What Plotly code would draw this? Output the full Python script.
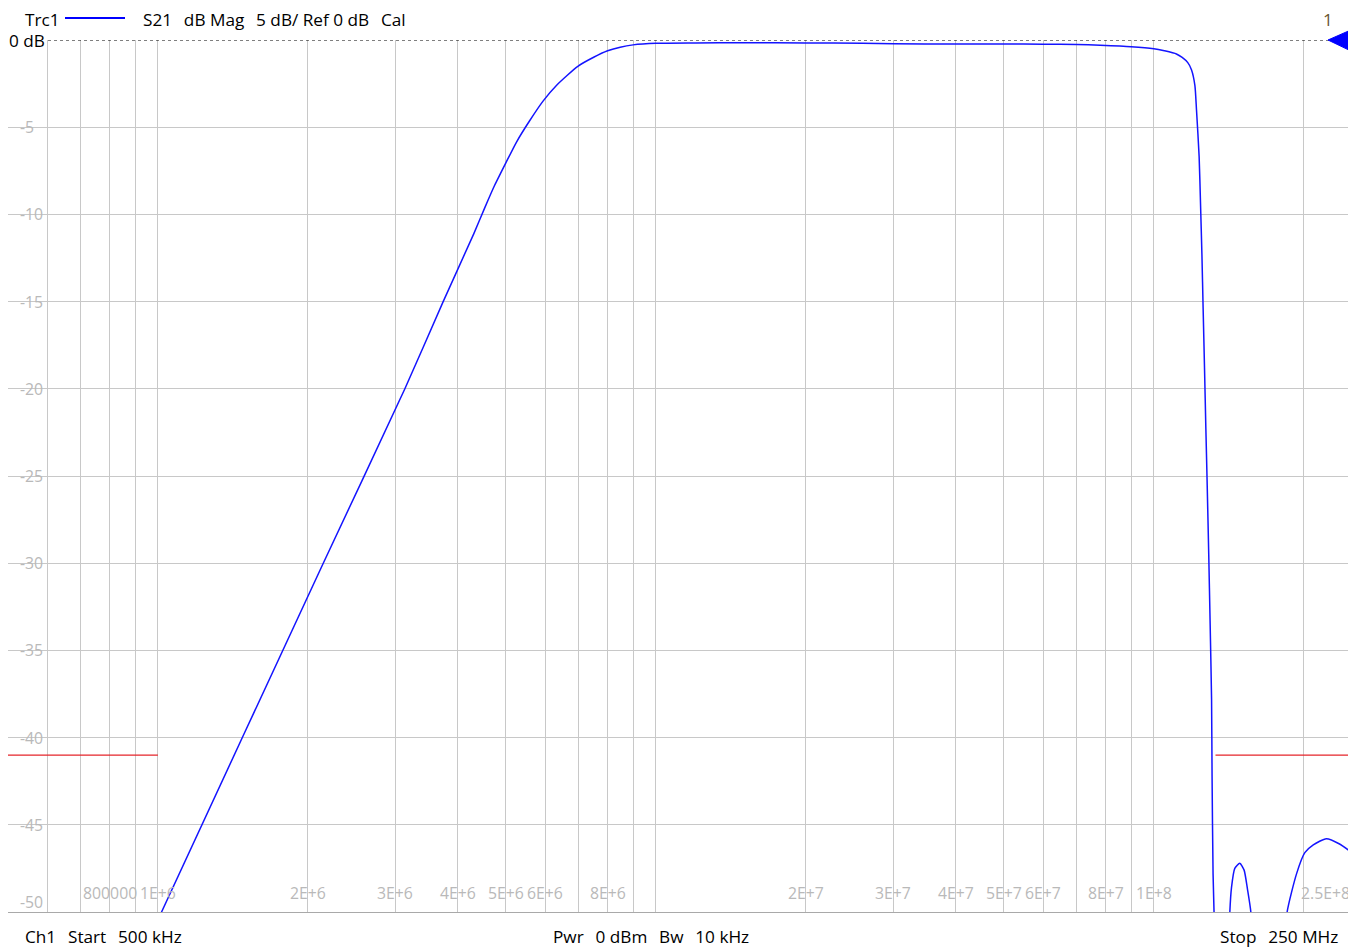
import numpy as np
import plotly.graph_objects as go

# ---------------- data ----------------
freq_hz = [5.0e5, 9.5e5, 1.017e6, 2.148e6, 3.133e6, 3.740e6, 4.31e6, 4.53e6, 4.74e6,
           5.0e6, 5.25e6, 5.57e6, 5.94e6, 6.32e6, 6.97e6, 7.50e6, 8.0e6, 8.48e6, 9.0e6,
           1.0e7, 1.2e7, 1.5e7, 2.0e7, 2.6e7, 3.0e7, 4.0e7, 5.0e7, 6.0e7, 7.0e7, 7.8e7,
           9.0e7, 1.0e8, 1.05e8, 1.11e8, 1.14e8, 1.17e8, 1.19e8, 1.209e8, 1.218e8, 1.233e8,
           1.241e8, 1.249e8, 1.256e8, 1.264e8, 1.272e8, 1.280e8, 1.289e8, 1.297e8, 1.306e8,
           1.309e8, 1.315e8, 1.321e8, 1.33e8, 1.38e8, 1.415e8, 1.421e8, 1.432e8, 1.454e8,
           1.488e8, 1.518e8, 1.542e8, 1.566e8, 1.58e8, 1.70e8, 1.82e8, 1.852e8, 1.935e8,
           2.01e8, 2.09e8, 2.22e8, 2.36e8, 2.50e8]
s21_db = [-75.0, -51.85, -50.0, -30.0, -20.0, -15.0, -11.1, -9.64, -8.36,
          -7.03, -5.85, -4.66, -3.49, -2.59, -1.51, -0.99, -0.62, -0.41, -0.28,
          -0.19, -0.17, -0.16, -0.17, -0.19, -0.22, -0.23, -0.23, -0.24, -0.26, -0.30,
          -0.38, -0.50, -0.62, -0.80, -1.00, -1.30, -1.70, -2.60, -4.00, -6.70,
          -9.40, -12.3, -15.4, -18.8, -22.3, -25.6, -29.5, -33.3, -37.8,
          -42.2, -47.8, -50.0, -56.0, -58.0, -52.0, -50.0, -48.6, -47.5,
          -47.2, -47.6, -48.7, -50.0, -53.0, -60.0, -53.0, -50.0, -47.8,
          -46.6, -46.15, -45.8, -46.1, -46.6]

limit_low_x = [5.0e5, 1.0e6]
limit_high_x = [1.33e8, 2.5e8]
limit_db = -41.0

grid_freqs = [6e5, 7e5, 8e5, 9e5,
              1e6, 2e6, 3e6, 4e6, 5e6, 6e6, 7e6, 8e6, 9e6,
              1e7, 2e7, 3e7, 4e7, 5e7, 6e7, 7e7, 8e7, 9e7,
              1e8, 2e8]
xlabel_freqs = [8e5, 1e6, 2e6, 3e6, 4e6, 5e6, 6e6, 8e6, 2e7, 3e7, 4e7, 5e7, 6e7, 8e7, 1e8]
xlabel_texts = ["800000", "1E+6", "2E+6", "3E+6", "4E+6", "5E+6", "6E+6", "8E+6",
                "2E+7", "3E+7", "4E+7", "5E+7", "6E+7", "8E+7", "1E+8"]
stop_label = "2.5E+8"
y_ticks = [-5, -10, -15, -20, -25, -30, -35, -40, -45]
y_labels = ["-5", "-10", "-15", "-20", "-25", "-30", "-35", "-40", "-45"]

f_start, f_stop = 5.0e5, 2.5e8
y_min, y_max = -50, 0

# ---------------- styling ----------------
FONT = "Open Sans"
GRID = "#c8c8c8"
LBL = "#b9b9b9"
BLUE = "#1414ff"
TSZ = 15.8       # tick-label font size
HSZ = 17.2       # header/footer font size
CW = 9.0         # approx char width for labels
SP2 = "\u00a0\u2009\u00a0"   # the wide double gap used in the status texts

fig = go.Figure()

fig.add_trace(go.Scatter(x=limit_low_x, y=[limit_db] * 2, mode="lines",
                         line=dict(color="#e5252a", width=1.3), hoverinfo="skip"))
fig.add_trace(go.Scatter(x=limit_high_x, y=[limit_db] * 2, mode="lines",
                         line=dict(color="#e5252a", width=1.3), hoverinfo="skip"))
fig.add_trace(go.Scatter(x=freq_hz, y=s21_db, mode="lines",
                         line=dict(color=BLUE, width=1.5, shape="spline", smoothing=0.6),
                         hoverinfo="skip"))

shapes = []
annotations = []

# x tick labels (inside plot, bottom)
for f, t in zip(xlabel_freqs, xlabel_texts):
    w = CW * len(t)
    shapes.append(dict(type="rect", layer="between", xref="x", yref="y",
                       xsizemode="pixel", ysizemode="pixel",
                       xanchor=np.log10(f), yanchor=y_min,
                       x0=-w / 2 - 1, x1=w / 2 + 1, y0=11, y1=27,
                       fillcolor="white", line=dict(width=0)))
    annotations.append(dict(x=np.log10(f), y=0, xref="x", yref="paper",
                            text=t, showarrow=False, xanchor="center", yanchor="middle",
                            yshift=19, font=dict(family=FONT, size=TSZ, color=LBL)))
annotations.append(dict(x=np.log10(f_stop), y=0, xref="x", yref="paper",
                        text=stop_label, showarrow=False, xanchor="right", yanchor="middle",
                        yshift=19, xshift=0, font=dict(family=FONT, size=TSZ, color=LBL)))

# y tick labels (inside plot, left)
for v, t in zip(y_ticks, y_labels):
    w = 9.0 * (len(t) - 1) + 5.5
    shapes.append(dict(type="rect", layer="between", xref="paper", yref="y",
                       xsizemode="pixel", ysizemode="pixel",
                       xanchor=0, yanchor=v, x0=9, x1=14 + w, y0=-8, y1=8,
                       fillcolor="white", line=dict(width=0)))
    annotations.append(dict(x=0, y=v, xref="paper", yref="y", text=t, showarrow=False,
                            xanchor="left", yanchor="middle", xshift=10,
                            font=dict(family=FONT, size=TSZ, color=LBL)))
annotations.append(dict(x=0, y=y_min, xref="paper", yref="y", text="-50", showarrow=False,
                        xanchor="left", yanchor="middle", xshift=10, yshift=10,
                        font=dict(family=FONT, size=TSZ, color=LBL)))

# reference dotted line at 0 dB
shapes.append(dict(type="line", xref="paper", yref="y", xsizemode="pixel", xanchor=0,
                   x0=40, x1=1322, y0=0, y1=0, layer="above",
                   line=dict(color="black", width=1, dash="dot")))
# reference marker triangle (paper coordinates)
shapes.append(dict(type="path", xref="paper", yref="paper",
                   path="M 0.98214,1.0 L 1.00074,1.0126 L 1.00074,0.98624 Z",
                   fillcolor="#0000ff", line=dict(color="#0000ff", width=1), layer="above"))
# legend line
shapes.append(dict(type="line", xref="paper", yref="paper", xsizemode="pixel",
                   ysizemode="pixel", xanchor=0, yanchor=1, x0=57, x1=117, y0=22, y1=22,
                   line=dict(color="#0000ff", width=2)))

# "0 dB" reference label
annotations.append(dict(x=0, y=0, xref="paper", yref="y", text="0 dB", showarrow=False,
                        xanchor="left", yanchor="middle", xshift=0, bgcolor="white",
                        borderpad=0, font=dict(family=FONT, size=HSZ, color="black")))
# header
annotations.append(dict(x=0, y=1, xref="paper", yref="paper", text="Trc1", showarrow=False,
                        xanchor="left", yanchor="middle", xshift=15, yshift=21,
                        font=dict(family=FONT, size=HSZ, color="black")))
annotations.append(dict(x=0, y=1, xref="paper", yref="paper",
                        text="S21" + SP2 + "dB Mag" + SP2 + "5 dB/ Ref 0 dB" + SP2 + "Cal",
                        showarrow=False,
                        xanchor="left", yanchor="middle", xshift=133, yshift=21,
                        font=dict(family=FONT, size=HSZ, color="black")))
annotations.append(dict(x=1, y=1, xref="paper", yref="paper", text="1", showarrow=False,
                        xanchor="center", yanchor="middle", xshift=-24, yshift=21,
                        font=dict(family=FONT, size=HSZ, color="#6b5630")))
# footer
annotations.append(dict(x=0, y=0, xref="paper", yref="paper",
                        text="Ch1" + SP2 + "Start" + SP2 + "500 kHz", showarrow=False,
                        xanchor="left", yanchor="middle", xshift=15, yshift=-24,
                        font=dict(family=FONT, size=HSZ, color="black")))
annotations.append(dict(x=0, y=0, xref="paper", yref="paper",
                        text="Pwr" + SP2 + "0 dBm" + SP2 + "Bw" + SP2 + "10 kHz",
                        showarrow=False,
                        xanchor="left", yanchor="middle", xshift=543, yshift=-24,
                        font=dict(family=FONT, size=HSZ, color="black")))
annotations.append(dict(x=1, y=0, xref="paper", yref="paper",
                        text="Stop" + SP2 + "250 MHz", showarrow=False,
                        xanchor="right", yanchor="middle", xshift=-12, yshift=-24,
                        font=dict(family=FONT, size=HSZ, color="black")))

fig.update_layout(
    width=1348, height=940,
    margin=dict(l=0, r=4, t=32, b=36),
    paper_bgcolor="white", plot_bgcolor="white",
    showlegend=False,
    font=dict(family=FONT, size=TSZ, color="black"),
    shapes=shapes, annotations=annotations,
    xaxis=dict(type="log", range=[np.log10(f_start), np.log10(f_stop)],
               tickvals=grid_freqs, showticklabels=False, ticks="",
               showgrid=True, gridcolor=GRID, gridwidth=1,
               showline=True, linecolor="#a9a9a9", linewidth=1, mirror=False,
               zeroline=False, fixedrange=True),
    yaxis=dict(range=[y_min, y_max], tickvals=y_ticks, showticklabels=False, ticks="",
               showgrid=True, gridcolor=GRID, gridwidth=1,
               showline=True, linecolor="#a9a9a9", linewidth=1, mirror=True,
               zeroline=False, fixedrange=True),
)

fig.write_html("out.html")
